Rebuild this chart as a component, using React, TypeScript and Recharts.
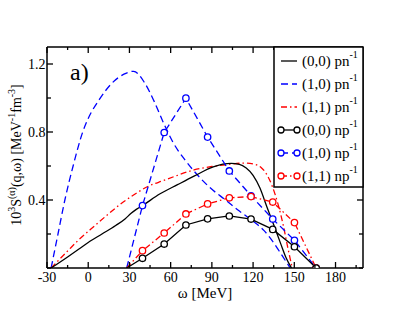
import React from 'react';
import { LineChart, Line, XAxis, YAxis } from 'recharts';

const FONT = '"Liberation Serif", "Times New Roman", serif';

// omega axis ticks (MeV)
const omegaTicks = [-30, -15, 0, 15, 30, 45, 60, 75, 90, 105, 120, 135, 150, 165, 180, 195];
const valueTicks = [0, 0.2, 0.4, 0.6, 0.8, 1.0, 1.2];
const valueLabelled = [0.4, 0.8, 1.2];

// (0,0) pn^-1
const pn00W = [-27, -15, -7, 0, 10, 20, 27, 31, 35, 40, 52, 65, 77, 91, 104, 110, 115, 120, 125, 130, 135, 140, 144, 148];
const pn00V = [0, 0.065, 0.11, 0.15, 0.2, 0.25, 0.29, 0.32, 0.345, 0.37, 0.435, 0.49, 0.54, 0.595, 0.615, 0.61, 0.588, 0.545, 0.47, 0.36, 0.255, 0.145, 0.06, 0];
// (1,0) pn^-1
const pn10W = [-27, -22, -17, -11, -4, 0, 8, 17, 26, 33, 41, 48, 55, 62, 70, 77, 89, 100, 110, 120, 128, 134, 139, 143, 147];
const pn10V = [0, 0.2, 0.4, 0.6, 0.8, 0.88, 0.99, 1.085, 1.14, 1.157, 1.09, 0.98, 0.85, 0.735, 0.64, 0.57, 0.47, 0.4, 0.335, 0.275, 0.22, 0.16, 0.1, 0.05, 0];
// (1,1) pn^-1
const pn11W = [-27, -15, -7, 5, 15, 25, 35, 43, 55, 65, 77, 90, 101, 113, 120, 126, 130, 134, 138, 142, 145, 148.5];
const pn11V = [0, 0.1, 0.165, 0.25, 0.32, 0.385, 0.44, 0.478, 0.515, 0.545, 0.577, 0.597, 0.608, 0.617, 0.612, 0.59, 0.55, 0.48, 0.38, 0.25, 0.13, 0];

// np^-1 series (first point carries no marker)
const npW = [28, 39.5, 55.3, 71.1, 86.9, 102.7, 118.5, 134.3, 150.1, 165.9];
const np00V = [0, 0.057, 0.141, 0.253, 0.289, 0.306, 0.288, 0.227, 0.125, 0];
const np10V = [0, 0.367, 0.797, 0.999, 0.77, 0.571, 0.425, 0.288, 0.163, 0];
const np11V = [0, 0.102, 0.206, 0.318, 0.377, 0.413, 0.42, 0.388, 0.267, 0];

const legendNames = ['(0,0) pn', '(1,0) pn', '(1,1) pn', '(0,0) np', '(1,0) np', '(1,1) np'];
const legendColors = ['#000000', '#0000ff', '#ff0000', '#000000', '#0000ff', '#ff0000'];
const legendDash = ['', '7 4', '6 3 1.5 3', '', '7 4', '6 3 1.5 3'];
const legendMarker = [false, false, false, true, true, true];

const zip = (w: number[], v: number[]) => w.map((x, i) => ({ w: x, v: v[i] }));

const BLUE = '#0000ff';
const RED = '#ff0000';
const SW = 1.3;

const BottomTick = (p: any) => {
  const v = p.payload.value;
  const major = v % 30 === 0;
  return (
    <g>
      <line x1={p.x} x2={p.x} y1={p.y} y2={p.y - (major ? 6 : 3)} stroke="#000" strokeWidth={1.3} />
      {major && (
        <text x={p.x} y={p.y + 14} textAnchor="middle" fontFamily={FONT} fontSize={14} fill="#000">
          {v}
        </text>
      )}
    </g>
  );
};
const TopTick = (p: any) => {
  const v = p.payload.value;
  const major = v % 30 === 0;
  return <line x1={p.x} x2={p.x} y1={p.y} y2={p.y + (major ? 6 : 3)} stroke="#000" strokeWidth={1.3} />;
};
const LeftTick = (p: any) => {
  const v = p.payload.value;
  const major = valueLabelled.some((t) => Math.abs(t - v) < 1e-6);
  return (
    <g>
      <line x1={p.x} x2={p.x + (major ? 6 : 4)} y1={p.y} y2={p.y} stroke="#000" strokeWidth={1.3} />
      {major && (
        <text x={p.x - 1.5} y={p.y} dy="0.35em" textAnchor="end" fontFamily={FONT} fontSize={14} fill="#000">
          {v.toFixed(1)}
        </text>
      )}
    </g>
  );
};
const RightTick = (p: any) => {
  const v = p.payload.value;
  const major = valueLabelled.some((t) => Math.abs(t - v) < 1e-6);
  return <line x1={p.x} x2={p.x - (major ? 6 : 4)} y1={p.y} y2={p.y} stroke="#000" strokeWidth={1.3} />;
};

const makeDot = (color: string) => (props: any) => {
  const { cx, cy, index } = props;
  if (index === 0) return <g key={`d${index}`} />;
  return <circle key={`d${index}`} cx={cx} cy={cy} r={3.2} stroke={color} strokeWidth={1.3} fill="#fff" />;
};

export default function App() {
  const margin = { top: 37, right: 36, bottom: 18, left: 7 };
  return (
    <div style={{ position: 'absolute', left: 0, top: 0, width: 409, height: 316, background: '#fff' }}>
      <LineChart width={409} height={316} margin={margin}>
        <XAxis xAxisId="b" type="number" dataKey="w" orientation="bottom" domain={[-30, 200]} allowDataOverflow
          ticks={omegaTicks} interval={0} height={30} tickSize={0} tickMargin={0} tickLine={false}
          axisLine={{ stroke: '#000', strokeWidth: 1.5 }} tick={<BottomTick />} />
        <XAxis xAxisId="t" type="number" dataKey="w" orientation="top" domain={[-30, 200]} allowDataOverflow
          ticks={omegaTicks} interval={0} height={10} tickSize={0} tickMargin={0} tickLine={false}
          axisLine={{ stroke: '#000', strokeWidth: 1.5 }} tick={<TopTick />} />
        <YAxis yAxisId="l" type="number" dataKey="v" orientation="left" domain={[0, 1.3]} allowDataOverflow
          ticks={valueTicks} interval={0} width={40} tickSize={0} tickMargin={0} tickLine={false}
          axisLine={{ stroke: '#000', strokeWidth: 1.5 }} tick={<LeftTick />} />
        <YAxis yAxisId="r" type="number" dataKey="v" orientation="right" domain={[0, 1.3]} allowDataOverflow
          ticks={valueTicks} interval={0} width={10} tickSize={0} tickMargin={0} tickLine={false}
          axisLine={{ stroke: '#000', strokeWidth: 1.5 }} tick={<RightTick />} />

        <Line xAxisId="b" yAxisId="l" data={zip(pn10W, pn10V)} dataKey="v" type="monotone" stroke={BLUE}
          strokeWidth={SW} strokeDasharray="7 4" dot={false} isAnimationActive={false} />
        <Line xAxisId="b" yAxisId="l" data={zip(pn11W, pn11V)} dataKey="v" type="monotone" stroke={RED}
          strokeWidth={SW} strokeDasharray="6 3 1.5 3" dot={false} isAnimationActive={false} />
        <Line xAxisId="b" yAxisId="l" data={zip(pn00W, pn00V)} dataKey="v" type="monotone" stroke="#000"
          strokeWidth={SW} dot={false} isAnimationActive={false} />

        <Line xAxisId="b" yAxisId="l" data={zip(npW, np10V)} dataKey="v" type="linear" stroke={BLUE}
          strokeWidth={SW} strokeDasharray="7 4" dot={makeDot(BLUE)} isAnimationActive={false} />
        <Line xAxisId="b" yAxisId="l" data={zip(npW, np11V)} dataKey="v" type="linear" stroke={RED}
          strokeWidth={SW} strokeDasharray="6 3 1.5 3" dot={makeDot(RED)} isAnimationActive={false} />
        <Line xAxisId="b" yAxisId="l" data={zip(npW, np00V)} dataKey="v" type="linear" stroke="#000"
          strokeWidth={SW} dot={makeDot('#000')} isAnimationActive={false} />
      </LineChart>

      <svg width={409} height={316} style={{ position: 'absolute', left: 0, top: 0, pointerEvents: 'none' }}>
        <text x={70} y={80} fontFamily={FONT} fontSize={24} fill="#000">a)</text>
        <text x={205} y={298} textAnchor="middle" fontFamily={FONT} fontSize={15} fill="#000">ω [MeV]</text>
        <text transform="translate(21,155) rotate(-90)" textAnchor="middle" fontFamily={FONT} fontSize={14} fill="#000">
          <tspan>10</tspan>
          <tspan fontSize={10} dy={-6}>3</tspan>
          <tspan dy={6}>S</tspan>
          <tspan fontSize={10} dy={-6}>(α)</tspan>
          <tspan dy={6}>(q,ω) [MeV</tspan>
          <tspan fontSize={10} dy={-6}>-1</tspan>
          <tspan dy={6}>fm</tspan>
          <tspan fontSize={10} dy={-6}>-3</tspan>
          <tspan dy={6}>]</tspan>
        </text>

        <rect x={274} y={47} width={89} height={140} fill="#fff" stroke="#000" strokeWidth={1.5} />
        {legendNames.map((name, i) => {
          const y = 61 + i * 23;
          return (
            <g key={name}>
              <line x1={281} x2={297} y1={y} y2={y} stroke={legendColors[i]} strokeWidth={SW}
                strokeDasharray={legendDash[i] || undefined} />
              {legendMarker[i] && (
                <>
                  <circle cx={281} cy={y} r={3} stroke={legendColors[i]} strokeWidth={SW} fill="#fff" />
                  <circle cx={297} cy={y} r={3} stroke={legendColors[i]} strokeWidth={SW} fill="#fff" />
                </>
              )}
              <text x={302} y={y + 5} fontFamily={FONT} fontSize={15} fill="#000">
                <tspan>{name}</tspan>
                <tspan fontSize={10} dy={-8}>-1</tspan>
              </text>
            </g>
          );
        })}
      </svg>
    </div>
  );
}
